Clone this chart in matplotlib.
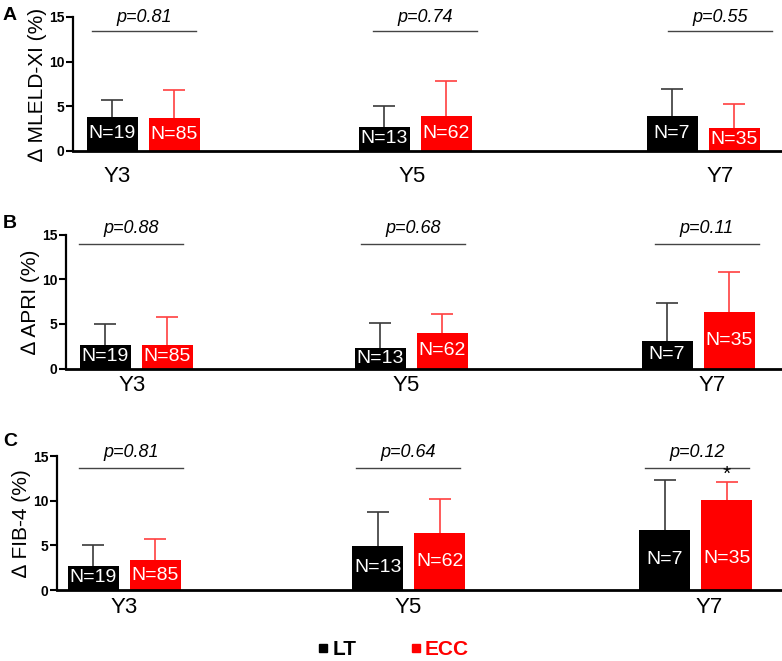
import matplotlib
matplotlib.use("Agg")
import matplotlib.pyplot as plt
from matplotlib.lines import Line2D

plt.rcParams['font.family'] = ['Liberation Sans', 'DejaVu Sans']

# data (mean change and upper SD, in %)
years = ['Y3', 'Y5', 'Y7']
n_lt = [19, 13, 7]
n_ecc = [85, 62, 35]

mleld_lt = [3.82, 2.70, 3.87]
mleld_lt_sd = [1.85, 2.36, 3.03]
mleld_ecc = [3.64, 3.87, 2.59]
mleld_ecc_sd = [3.15, 4.00, 2.63]
mleld_p = ['0.81', '0.74', '0.55']

apri_lt = [2.61, 2.24, 3.10]
apri_lt_sd = [2.35, 2.86, 4.25]
apri_ecc = [2.61, 3.95, 6.30]
apri_ecc_sd = [3.17, 2.13, 4.45]
apri_p = ['0.88', '0.68', '0.11']

fib4_lt = [2.69, 4.96, 6.72]
fib4_lt_sd = [2.35, 3.77, 5.58]
fib4_ecc = [3.32, 6.35, 10.04]
fib4_ecc_sd = [2.36, 3.87, 2.08]
fib4_p = ['0.81', '0.64', '0.12']
fib4_star = ['', '', '*']

W, H = 782, 661
fig = plt.figure(figsize=(W / 100, H / 100), dpi=100)

# layout of each panel, in pixels of the picture
panels = [
    dict(letter='A', letter_y=7, left=73, base=151, top=17, label='\u2206 MLELD-XI (%)',
         lt=mleld_lt, lt_sd=mleld_lt_sd, ecc=mleld_ecc, ecc_sd=mleld_ecc_sd, p=mleld_p, star=None,
         groups=[70, 342, 630], lines=[71, 352, 647], ticks=[44, 339, 647],
         line_y=13.4, p_y=15.0, tick_pad=10.5),
    dict(letter='B', letter_y=215, left=66, base=368.5, top=234.5, label='\u2206 APRI (%)',
         lt=apri_lt, lt_sd=apri_lt_sd, ecc=apri_ecc, ecc_sd=apri_ecc_sd, p=apri_p, star=None,
         groups=[70, 345, 632], lines=[65, 347, 641], ticks=[66, 340, 646],
         line_y=13.9, p_y=15.7, tick_pad=5),
    dict(letter='C', letter_y=433, left=57, base=590, top=456, label='\u2206 FIB-4 (%)',
         lt=fib4_lt, lt_sd=fib4_lt_sd, ecc=fib4_ecc, ecc_sd=fib4_ecc_sd, p=fib4_p, star=fib4_star,
         groups=[67, 352, 639], lines=[74, 351, 640], ticks=[67, 351, 652],
         line_y=13.7, p_y=15.4, tick_pad=5),
]

bw = 51
off = 31

for pn in panels:
    width_px = W - pn['left']
    ax = fig.add_axes([pn['left'] / W, 1 - pn['base'] / H, width_px / W,
                       (pn['base'] - pn['top']) / H])
    ax.set_xlim(0, width_px)
    ax.set_ylim(0, 15)

    x_lt = [g - off for g in pn['groups']]
    x_ecc = [g + off for g in pn['groups']]
    ax.bar(x_lt, pn['lt'], width=bw, color='black', zorder=2)
    ax.bar(x_ecc, pn['ecc'], width=bw, color='#ff0000', zorder=2)
    # only the upper half of each error bar is shown
    eb1 = ax.errorbar(x_lt, pn['lt'], yerr=[[0] * 3, pn['lt_sd']], fmt='none',
                      ecolor='#3a3a3a', elinewidth=1.2, capsize=8, capthick=1.2, zorder=1)
    eb2 = ax.errorbar(x_ecc, pn['ecc'], yerr=[[0] * 3, pn['ecc_sd']], fmt='none',
                      ecolor='#ff4040', elinewidth=1.2, capsize=8, capthick=1.2, zorder=1)
    eb1[1][0].set_visible(False)
    eb2[1][0].set_visible(False)

    for i in range(3):
        ax.text(x_lt[i], min(pn['lt'][i] / 2, 3.5), 'N=%d' % n_lt[i], color='white',
                ha='center', va='center', fontsize=14, zorder=3)
        ax.text(x_ecc[i], min(pn['ecc'][i] / 2, 3.5), 'N=%d' % n_ecc[i], color='white',
                ha='center', va='center', fontsize=14, zorder=3)
        lc = pn['lines'][i]
        ax.plot([lc - 52, lc + 52], [pn['line_y']] * 2, color='#444444', lw=1,
                clip_on=False)
        ax.text(lc, pn['p_y'], 'p=' + pn['p'][i], style='italic', ha='center',
                va='center', fontsize=13, clip_on=False)
        if pn['star'] and pn['star'][i]:
            ax.text(x_ecc[i], 13.0, pn['star'][i], ha='center', va='center', fontsize=15)

    ax.set_xticks(pn['ticks'])
    ax.set_xticklabels(years, fontsize=16)
    ax.tick_params(axis='x', length=0, pad=pn['tick_pad'])
    ax.set_yticks([0, 5, 10, 15])
    ax.tick_params(axis='y', length=5, width=1.5, labelsize=10, pad=1)
    for t in ax.get_yticklabels():
        t.set_fontweight('bold')
    ax.spines['top'].set_visible(False)
    ax.spines['right'].set_visible(False)
    ax.spines['left'].set_linewidth(1.6)
    ax.spines['bottom'].set_linewidth(2)
    ax.set_ylabel(pn['label'], fontsize=15)
    ax.yaxis.set_label_coords(-26 / width_px, 0.5)

    fig.text(3 / W, 1 - pn['letter_y'] / H, pn['letter'], fontsize=14,
             fontweight='bold', va='top', ha='left')

handles = [Line2D([], [], marker='s', color='black', ls='none', markersize=6),
           Line2D([], [], marker='s', color='#ff0000', ls='none', markersize=6)]
leg = fig.legend(handles, ['LT', 'ECC'], loc='center', bbox_to_anchor=(0.503, 0.017),
                 ncol=2, frameon=False, handlelength=0.5, handletextpad=0.2,
                 columnspacing=2.6, prop={'weight': 'bold', 'size': 15})
leg.get_texts()[1].set_color('#ff0000')

fig.savefig('out.png', dpi=100)
